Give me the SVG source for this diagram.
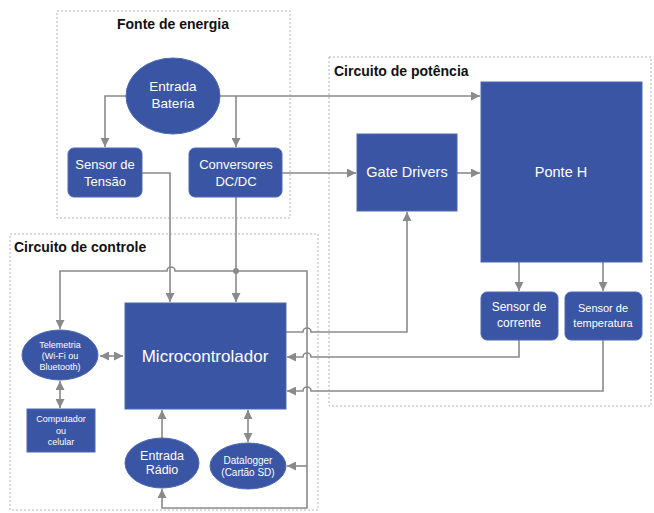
<svg xmlns="http://www.w3.org/2000/svg" width="654" height="513" viewBox="0 0 654 513">
<defs>
<marker id="ah" markerWidth="9" markerHeight="9" refX="9" refY="4.5" orient="auto-start-reverse" markerUnits="userSpaceOnUse">
<path d="M0,0 L9,4.5 L0,9 z" fill="#8a8a8a"/>
</marker>
<style>
.grp{fill:none;stroke:#b4b4b4;stroke-width:1;stroke-dasharray:2,2}
.title{font-family:"Liberation Sans",Arial,sans-serif;font-weight:bold;font-size:14px;fill:#111}
.n{fill:#3a55a4;stroke:#4d68b3;stroke-width:1}
.t{font-family:"Liberation Sans",Arial,sans-serif;fill:#fff;text-anchor:middle;dominant-baseline:central}
.c{fill:none;stroke:#8a8a8a;stroke-width:1.6}
.a{marker-end:url(#ah)}
.d{marker-start:url(#ah);marker-end:url(#ah)}
</style>
</defs>
<rect width="654" height="513" fill="#fff"/>
<g id="groups">
<rect class="grp" x="57" y="11" width="233" height="207"/>
<text class="title" x="173" y="29" text-anchor="middle">Fonte de energia</text>
<rect class="grp" x="10" y="234" width="308" height="276"/>
<text class="title" x="14" y="252">Circuito de controle</text>
<rect class="grp" x="329" y="57" width="322" height="349"/>
<text class="title" x="334" y="76">Circuito de potência</text>
</g>
<g id="connectors">
<path class="c a" d="M126,96 L105,96 L105,147"/>
<path class="c a" d="M220,96 L480,96"/>
<path class="c a" d="M236,96 L236,147"/>
<path class="c a" d="M142,173 L170,173 L170,302"/>
<path class="c a" d="M236,197 L236,302"/>
<path class="c a" d="M282,173 L356,173"/>
<path class="c a" d="M457,173 L480,173"/>
<path class="c a" d="M236,271 L175,271 A4,4 0 0 0 167,271 L60,271 L60,329"/>
<path class="c a" d="M236,271 L307,271 L307,508 L162,508 L162,489"/>
<path class="c a" d="M307,466 L287,466"/>
<circle cx="236" cy="271" r="3" fill="#8a8a8a"/>
<path class="c d" d="M100,356 L123,356"/>
<path class="c d" d="M60,381 L60,408"/>
<path class="c a" d="M162,439 L162,410"/>
<path class="c d" d="M248,410 L248,442"/>
<path class="c a" d="M286,332 L303,332 A4,4 0 0 1 311,332 L407,332 L407,212"/>
<path class="c a" d="M519,340 L519,357 L311,357 A4,4 0 0 0 303,357 L287,357"/>
<path class="c a" d="M603,340 L603,391 L311,391 A4,4 0 0 0 303,391 L287,391"/>
<path class="c a" d="M519,262 L519,291"/>
<path class="c a" d="M603,262 L603,291"/>
</g>
<g id="entrada-bateria">
<ellipse class="n" cx="173" cy="96" rx="47" ry="38"/>
<text class="t" x="173" y="86" font-size="13.5">Entrada</text>
<text class="t" x="173" y="103" font-size="13.5">Bateria</text>
</g>
<g id="sensor-tensao">
<rect class="n" x="68" y="148" width="74" height="49" rx="6"/>
<text class="t" x="105" y="164" font-size="13">Sensor de</text>
<text class="t" x="105" y="181" font-size="13">Tensão</text>
</g>
<g id="conversores">
<rect class="n" x="189" y="148" width="93" height="49" rx="6"/>
<text class="t" x="236" y="164" font-size="13">Conversores</text>
<text class="t" x="236" y="181" font-size="13">DC/DC</text>
</g>
<g id="gate-drivers">
<rect class="n" x="357" y="134" width="100" height="77"/>
<text class="t" x="407" y="172" font-size="14.5">Gate Drivers</text>
</g>
<g id="ponte-h">
<rect class="n" x="481" y="82" width="161" height="180"/>
<text class="t" x="561" y="172" font-size="14.5">Ponte H</text>
</g>
<g id="sensor-corrente">
<rect class="n" x="481" y="292" width="77" height="48" rx="6"/>
<text class="t" x="519" y="307" font-size="12">Sensor de</text>
<text class="t" x="519" y="323" font-size="12">corrente</text>
</g>
<g id="sensor-temperatura">
<rect class="n" x="565" y="292" width="77" height="48" rx="6"/>
<text class="t" x="603" y="308" font-size="11">Sensor de</text>
<text class="t" x="603" y="323" font-size="11">temperatura</text>
</g>
<g id="microcontrolador">
<rect class="n" x="125" y="303" width="161" height="106"/>
<text class="t" x="205" y="356" font-size="17">Microcontrolador</text>
</g>
<g id="telemetria">
<ellipse class="n" cx="60" cy="355" rx="38" ry="25"/>
<text class="t" x="60" y="345" font-size="9">Telemetria</text>
<text class="t" x="60" y="356" font-size="9">(Wi-Fi ou</text>
<text class="t" x="60" y="367" font-size="9">Bluetooth)</text>
</g>
<g id="computador">
<rect class="n" x="27" y="409" width="68" height="43"/>
<text class="t" x="61" y="419" font-size="9">Computador</text>
<text class="t" x="61" y="431" font-size="9">ou</text>
<text class="t" x="61" y="442" font-size="9">celular</text>
</g>
<g id="entrada-radio">
<ellipse class="n" cx="162" cy="463" rx="37" ry="25"/>
<text class="t" x="162" y="456" font-size="12.5">Entrada</text>
<text class="t" x="162" y="470" font-size="12.5">Rádio</text>
</g>
<g id="datalogger">
<ellipse class="n" cx="248" cy="466" rx="38" ry="23"/>
<text class="t" x="248" y="460" font-size="10">Datalogger</text>
<text class="t" x="248" y="472" font-size="10">(Cartão SD)</text>
</g>
</svg>
